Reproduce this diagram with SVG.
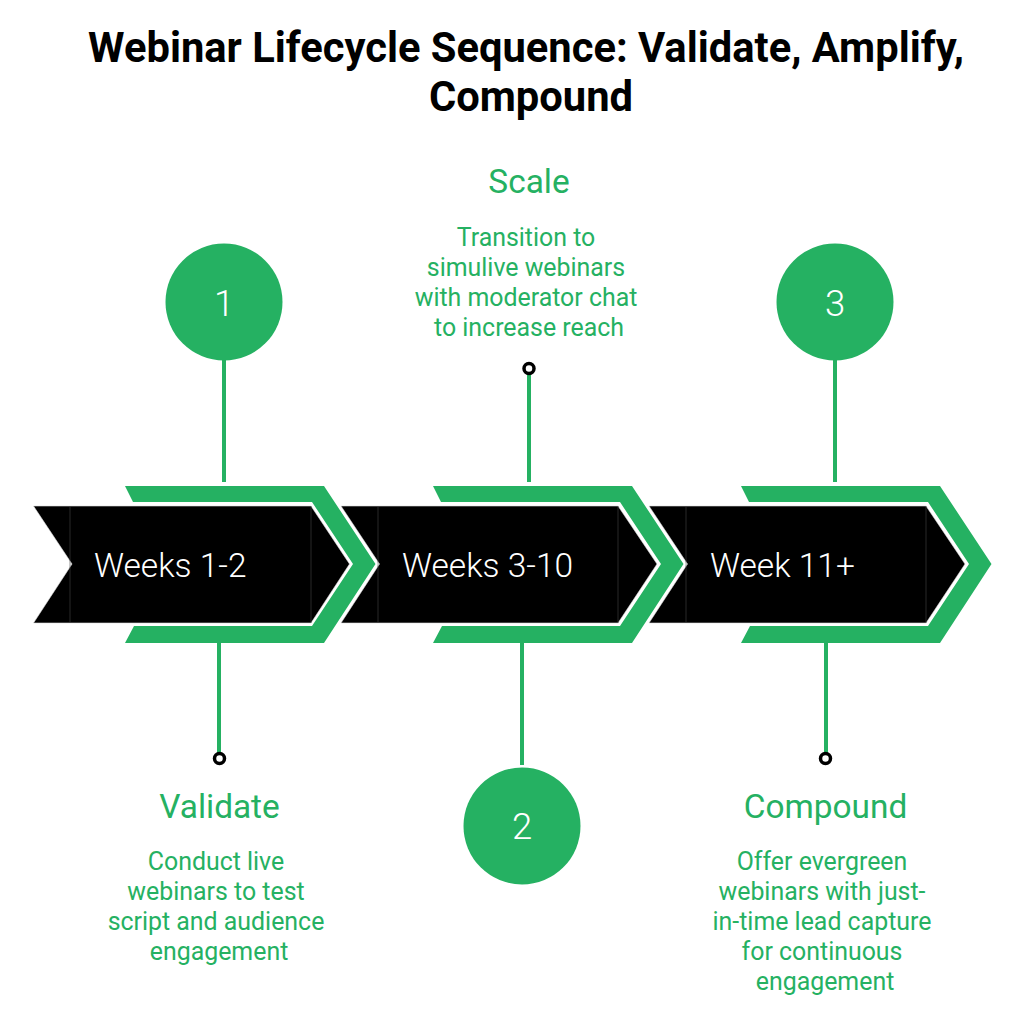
<svg xmlns="http://www.w3.org/2000/svg" width="1024" height="1024" viewBox="0 0 1024 1024">
<style>
.t{font-family:Roboto,"Liberation Sans",sans-serif;text-anchor:middle}
.title{font-size:41.7px;font-weight:700;fill:#000}
.h{font-size:33.4px;fill:#25b162}
.b{font-size:24.9px;fill:#25b162}
.w{font-family:Roboto,"Liberation Sans",sans-serif;font-size:33.5px;fill:#fff;font-weight:350}
.n{font-size:36.5px;fill:#fff;font-weight:350}
.c{fill:none;stroke:#25b162;stroke-width:4}
.dot{fill:#fff;stroke:#000;stroke-width:3.5}
.g{fill:#25b162;stroke:#fff;stroke-width:3.5;paint-order:stroke}
.k{fill:#000;stroke:#ddd;stroke-width:.6}
.s{stroke:#444;stroke-width:.6;fill:none}
</style>
<rect width="1024" height="1024" fill="#fff"/>
<text class="t title" x="526" y="61.500">Webinar Lifecycle Sequence: Validate, Amplify,</text>
<text class="t title" x="531" y="111">Compound</text>
<g id="stage3">
<path class="k" d="M649 506H926L965 564L926 623H649L687.500 564Z"/>
<path class="s" d="M686 506V623M926 506V623"/>
<path class="g" d="M741 486H940L991.500 564L940 643H741L750 626H928L969 564L928 502H749Z"/>
<text class="w" x="710" y="577">Week 11+</text>
</g>
<g id="stage2">
<path class="k" d="M341 506H618L657 564L618 623H341L379.500 564Z"/>
<path class="s" d="M378 506V623M618 506V623"/>
<path class="g" d="M433 486H632L683.500 564L632 643H433L442 626H620L661 564L620 502H441Z"/>
<text class="w" x="402" y="577">Weeks 3-10</text>
</g>
<g id="stage1">
<path class="k" d="M33.500 506H311L349.500 564L311 623H33.500L72 564Z"/>
<path class="s" d="M70 506V623M311 506V623"/>
<path class="g" d="M125 486H324L375.500 564L324 643H125L134 626H312L353 564L312 502H133Z"/>
<text class="w" x="94" y="577">Weeks 1-2</text>
</g>
<g id="connectors">
<path class="c" d="M224 360V482M219 643V753M529 374V482M522 643V765M835 360V482M826 643V753"/>
<circle class="dot" cx="219.500" cy="758.500" r="5"/>
<circle class="dot" cx="529" cy="368.500" r="5"/>
<circle class="dot" cx="825.500" cy="758.500" r="5"/>
</g>
<g id="node1"><circle cx="224" cy="302" r="58.500" fill="#25b162"/><text class="t n" x="224" y="316">1</text></g>
<g id="node2"><circle cx="522" cy="826" r="58.500" fill="#25b162"/><text class="t n" x="522" y="839">2</text></g>
<g id="node3"><circle cx="835" cy="302" r="58.500" fill="#25b162"/><text class="t n" x="835" y="316">3</text></g>
<g id="validate">
<text class="t h" x="219.500" y="818">Validate</text>
<text class="t b" x="216" y="870">Conduct live</text>
<text class="t b" x="216" y="900">webinars to test</text>
<text class="t b" x="216" y="930">script and audience</text>
<text class="t b" x="219" y="960">engagement</text>
</g>
<g id="scale">
<text class="t h" x="529" y="193">Scale</text>
<text class="t b" x="526" y="246">Transition to</text>
<text class="t b" x="526" y="276">simulive webinars</text>
<text class="t b" x="526" y="306">with moderator chat</text>
<text class="t b" x="529" y="336">to increase reach</text>
</g>
<g id="compound">
<text class="t h" x="825.500" y="818">Compound</text>
<text class="t b" x="822" y="870">Offer evergreen</text>
<text class="t b" x="822" y="900">webinars with just-</text>
<text class="t b" x="822" y="930">in-time lead capture</text>
<text class="t b" x="822" y="960">for continuous</text>
<text class="t b" x="825" y="990">engagement</text>
</g>
</svg>
